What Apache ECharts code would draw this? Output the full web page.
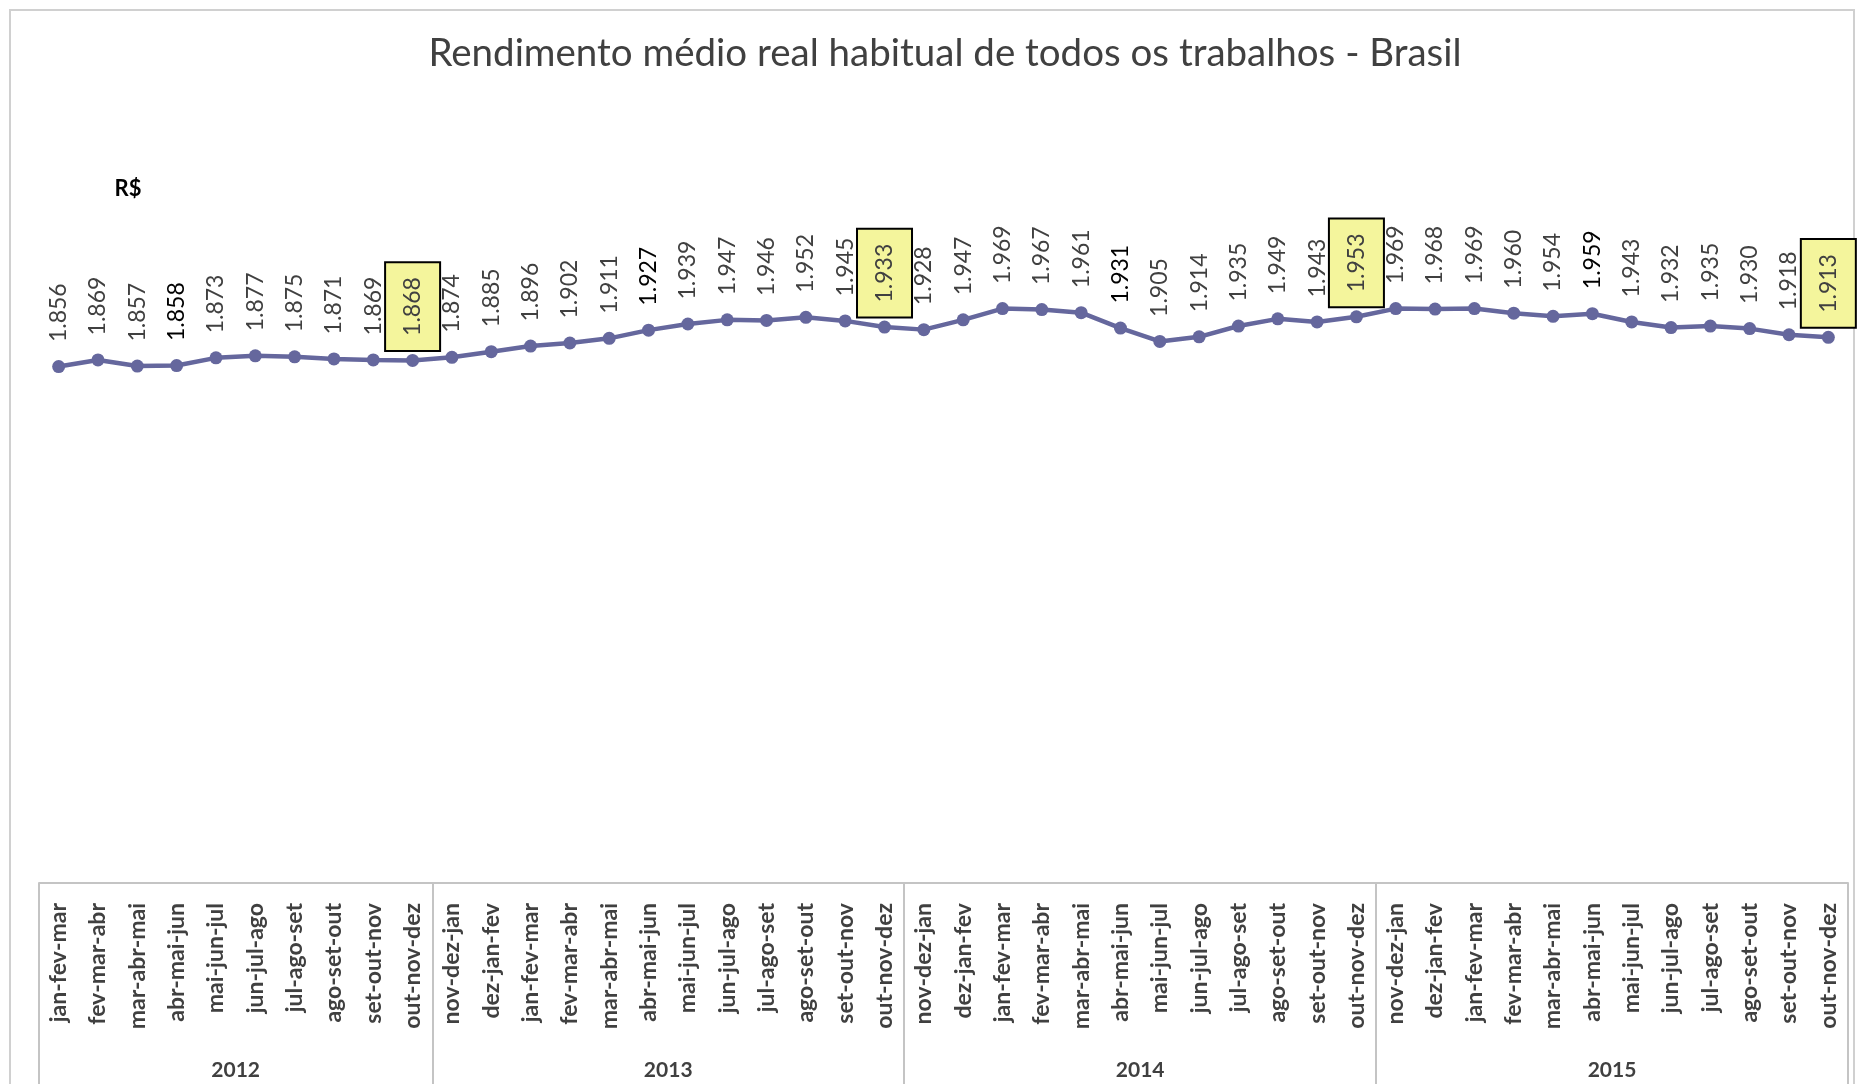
<!DOCTYPE html>
<html>
<head>
<meta charset="utf-8">
<script src="https://cdn.jsdelivr.net/npm/echarts@6/dist/echarts.min.js"></script>
<style>
  html, body { margin: 0; padding: 0; background: #fff; }
  #chart { width: 1857px; height: 1084px; }
</style>
</head>
<body>
<div id="chart"></div>
<script>
// trimestres móveis
const periods = [
  'jan-fev-mar', 'fev-mar-abr', 'mar-abr-mai', 'abr-mai-jun', 'mai-jun-jul', 'jun-jul-ago', 'jul-ago-set', 'ago-set-out', 'set-out-nov', 'out-nov-dez',
  'nov-dez-jan', 'dez-jan-fev', 'jan-fev-mar', 'fev-mar-abr', 'mar-abr-mai', 'abr-mai-jun', 'mai-jun-jul', 'jun-jul-ago', 'jul-ago-set', 'ago-set-out', 'set-out-nov', 'out-nov-dez',
  'nov-dez-jan', 'dez-jan-fev', 'jan-fev-mar', 'fev-mar-abr', 'mar-abr-mai', 'abr-mai-jun', 'mai-jun-jul', 'jun-jul-ago', 'jul-ago-set', 'ago-set-out', 'set-out-nov', 'out-nov-dez',
  'nov-dez-jan', 'dez-jan-fev', 'jan-fev-mar', 'fev-mar-abr', 'mar-abr-mai', 'abr-mai-jun', 'mai-jun-jul', 'jun-jul-ago', 'jul-ago-set', 'ago-set-out', 'set-out-nov', 'out-nov-dez'
];
const years = ['2012', '2013', '2014', '2015'];
const yearCounts = [10, 12, 12, 12];

// R$
const rendimento = [
  1856, 1869, 1857, 1858, 1873, 1877, 1875, 1871, 1869, 1868,
  1874, 1885, 1896, 1902, 1911, 1927, 1939, 1947, 1946, 1952, 1945, 1933,
  1928, 1947, 1969, 1967, 1961, 1931, 1905, 1914, 1935, 1949, 1943, 1953,
  1969, 1968, 1969, 1960, 1954, 1959, 1943, 1932, 1935, 1930, 1918, 1913
];

const chart = echarts.init(document.getElementById('chart'));

// limites dos anos e centros (em unidades de categoria)
const bounds = [0];
yearCounts.forEach(n => bounds.push(bounds[bounds.length - 1] + n));
const centers = years.map((y, i) => (bounds[i] + bounds[i + 1]) / 2);

const fmt = v => String(v).replace(/(\d)(\d{3})$/, '$1.$2');

const LABEL_DIST = 18;
const seriesData = rendimento.map((v, i) => {
  const p = periods[i];
  if (p === 'out-nov-dez') {
    return {
      value: v,
      label: {
        distance: LABEL_DIST - 14,
        backgroundColor: '#f4f59c',
        borderColor: '#000',
        borderWidth: 2,
        padding: [15, 14, 15, 14]
      }
    };
  }
  if (p === 'abr-mai-jun') {
    return { value: v, label: { color: '#000' } };
  }
  return v;
});

const option = {
  animation: false,
  title: {
    text: 'Rendimento médio real habitual de todos os trabalhos - Brasil',
    left: 940,
    textAlign: 'center',
    top: 29,
    textStyle: { fontFamily: 'Lato', fontSize: 38.5, fontWeight: 'normal', color: '#404040' }
  },
  graphic: [
    {
      type: 'rect',
      shape: { x: 10, y: 10, width: 1844, height: 1100 },
      style: { fill: null, stroke: '#d0d0d0', lineWidth: 2 },
      silent: true
    },
    {
      type: 'text',
      x: 128, y: 189,
      style: {
        text: 'R$', fontFamily: 'Lato', fontSize: 22, fontWeight: 'bold',
        fill: '#000', align: 'center', verticalAlign: 'middle'
      }
    }
  ],
  grid: { left: 39, right: 9, top: 190, bottom: 201, containLabel: false },
  xAxis: [
    {
      type: 'category',
      data: periods,
      position: 'bottom',
      axisLine: { show: false, onZero: false },
      axisTick: { show: false },
      axisLabel: {
        interval: 0,
        rotate: 90,
        margin: 20,
        fontFamily: 'Lato',
        fontSize: 23,
        fontWeight: 'bold',
        color: '#404040'
      }
    },
    {
      type: 'value',
      min: 0,
      max: bounds[bounds.length - 1],
      position: 'bottom',
      splitLine: { show: false },
      axisLine: { show: true, onZero: false, lineStyle: { color: '#c4c4c4', width: 2 } },
      axisTick: {
        show: true,
        customValues: bounds,
        length: 210,
        lineStyle: { color: '#c4c4c4', width: 2 }
      },
      axisLabel: {
        customValues: centers,
        formatter: v => years[centers.indexOf(v)] || '',
        margin: 177,
        fontFamily: 'Lato',
        fontSize: 21,
        fontWeight: 'bold',
        color: '#404040'
      }
    }
  ],
  yAxis: {
    type: 'value',
    min: 850,
    max: 2200,
    show: false,
    splitLine: { show: false }
  },
  series: [
    {
      name: 'Rendimento',
      type: 'line',
      xAxisIndex: 0,
      data: seriesData,
      color: '#65679d',
      symbol: 'circle',
      symbolSize: 13,
      lineStyle: { width: 4.5 },
      label: {
        show: true,
        position: 'top',
        distance: LABEL_DIST,
        rotate: 90,
        align: 'left',
        verticalAlign: 'middle',
        fontFamily: 'Lato',
        fontSize: 23,
        color: '#404040',
        formatter: p => fmt(p.value)
      }
    }
  ]
};

chart.setOption(option);
</script>
</body>
</html>
